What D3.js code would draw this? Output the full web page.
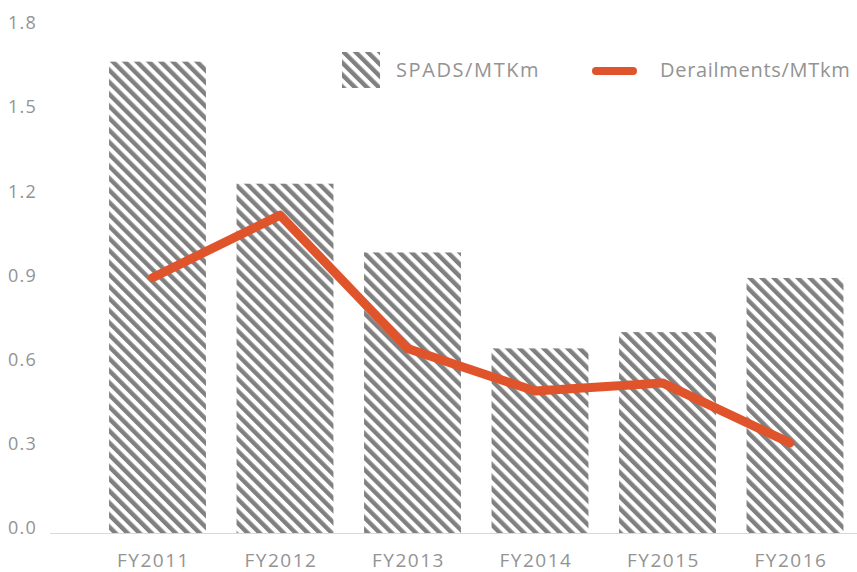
<!DOCTYPE html>
<html><head><meta charset="utf-8">
<script src="https://cdn.jsdelivr.net/npm/d3@7"></script>
<style>
html,body{margin:0;padding:0;background:#fff;}
text{font-family:"Open Sans",Lato,sans-serif;fill:#939393;}
</style></head>
<body><svg id="chart" width="857" height="572"></svg>
<script>
const categories = ["FY2011","FY2012","FY2013","FY2014","FY2015","FY2016"];
const spads = [1.68, 1.245, 1.0, 0.658, 0.716, 0.909];
const derailments = [0.91, 1.133, 0.658, 0.506, 0.535, 0.321];
const yTicks = [0, 0.3, 0.6, 0.9, 1.2, 1.5, 1.8];
const seriesNames = ["SPADS/MTKm", "Derailments/MTkm"];

const svg = d3.select("#chart");
const grey = "#808080", orange = "#e0542c";

const defs = svg.append("defs");
const pat = defs.append("pattern").attr("id","stripes").attr("patternUnits","userSpaceOnUse")
  .attr("width", 8.5).attr("height", 8.5).attr("patternTransform","rotate(-45)");
pat.append("rect").attr("width",8.5).attr("height",8.5).attr("fill","#fff");
pat.append("rect").attr("x",0).attr("y",0).attr("width",4.4).attr("height",8.5).attr("fill",grey);

const x = d3.scaleBand().domain(categories).range([93.75, 858.75]).paddingInner(0.24).paddingOuter(0.12);
const y = d3.scaleLinear().domain([0, 1.8]).range([533, 28]);
const off = -5;

// y labels
svg.append("g").selectAll("text").data(yTicks).join("text")
  .attr("x", 37).attr("y", d => y(d) - 5).attr("dy","0.35em").attr("text-anchor","end")
  .style("font-size","18px").style("letter-spacing","1.2px").text(d => d3.format(".1f")(d));

// bars
svg.append("g").selectAll("rect").data(categories).join("rect")
  .attr("x", d => x(d)).attr("width", x.bandwidth())
  .attr("y", (d,i) => y(spads[i])).attr("height", (d,i) => y(0) - y(spads[i]))
  .attr("fill","url(#stripes)");

// axis line
svg.append("line").attr("x1",50).attr("x2",857).attr("y1",y(0)+0.5).attr("y2",y(0)+0.5)
  .attr("stroke","#d9d9d9").attr("stroke-width",1);

// x labels
svg.append("g").selectAll("text").data(categories).join("text")
  .attr("x", d => x(d) + x.bandwidth()/2 + off + 1).attr("y", 560).attr("dy","0.35em")
  .attr("text-anchor","middle").style("font-size","19px").style("letter-spacing","1.5px").text(d => d);

// line
const line = d3.line().x((d,i) => x(categories[i]) + x.bandwidth()/2 + off).y(d => y(d));
svg.append("path").datum(derailments).attr("d", line).attr("fill","none")
  .attr("stroke", orange).attr("stroke-width", 9).attr("stroke-linecap","round").attr("stroke-linejoin","round");

// legend
const lg = svg.append("g");
lg.append("rect").attr("x",342).attr("y",52).attr("width",38).attr("height",36).attr("fill","url(#stripes)");
lg.append("text").attr("x",396).attr("y",70).attr("dy","0.35em").style("font-size","20px").style("letter-spacing","1.6px").text(seriesNames[0]);
lg.append("line").attr("x1",596).attr("x2",633).attr("y1",71).attr("y2",71)
  .attr("stroke",orange).attr("stroke-width",8).attr("stroke-linecap","round");
lg.append("text").attr("x",660).attr("y",70).attr("dy","0.35em").style("font-size","20px").style("letter-spacing","0.7px").text(seriesNames[1]);
</script></body></html>
